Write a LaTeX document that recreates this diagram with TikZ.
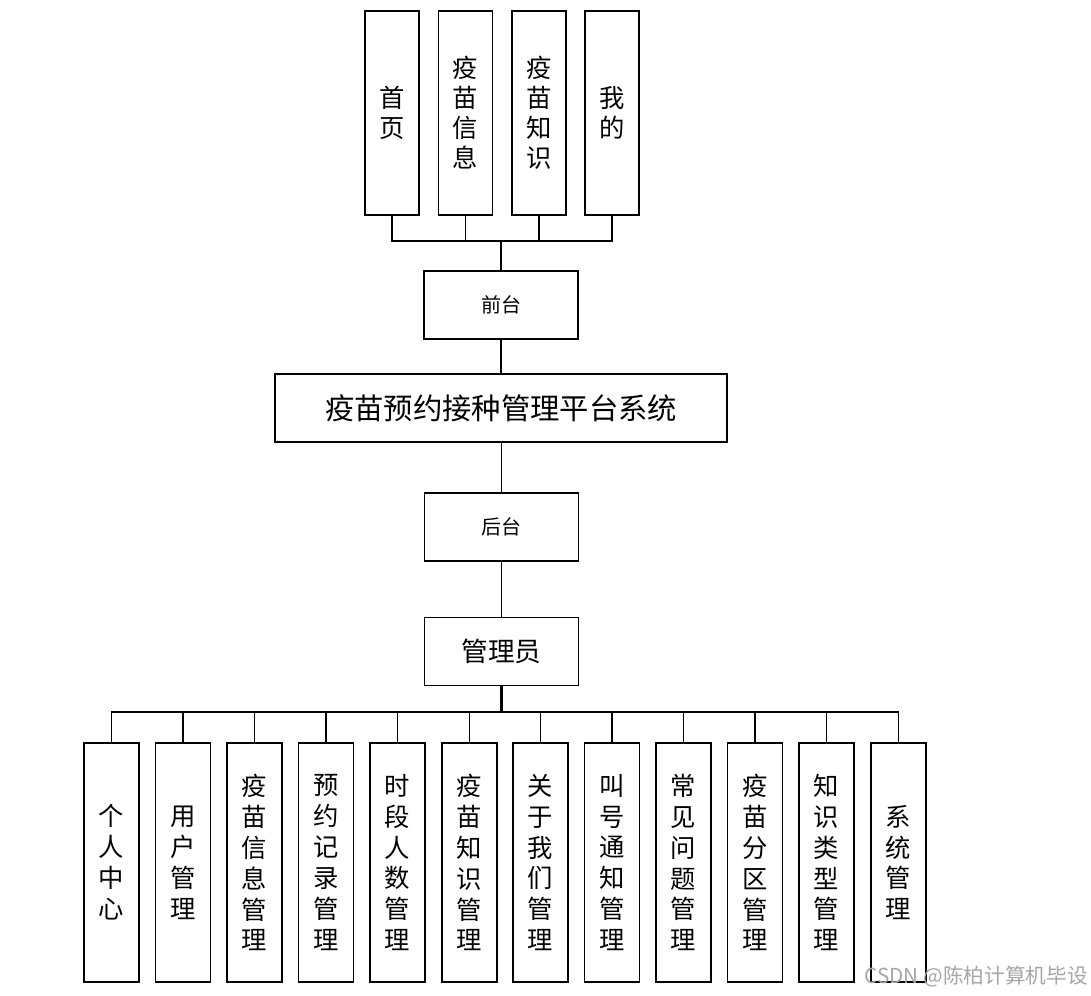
\documentclass[tikz,border=0pt]{standalone}
\usepackage{fontspec}
\setmainfont{Noto Sans CJK SC}
\begin{document}
\begin{tikzpicture}[x=0.75pt,y=-0.75pt,
  box/.style={draw=black,line width=1.3pt,inner sep=0pt,fill=white},
  topbox/.style={box,minimum width=40.5pt,minimum height=153pt,font=\fontsize{19pt}{22.5pt}\selectfont,align=center},
  botbox/.style={box,minimum width=41.25pt,minimum height=179.25pt,font=\fontsize{19pt}{23.2pt}\selectfont,align=center},
  midbox/.style={box,minimum width=115.5pt,minimum height=51pt},
  link/.style={line width=1.2pt,black}]
\useasboundingbox (0,0) rectangle (1091,995);
% top boxes
\node[topbox] (t1) at (392,113) {首\\页};
\node[topbox] (t2) at (465.5,113) {疫\\苗\\信\\息};
\node[topbox] (t3) at (539,113) {疫\\苗\\知\\识};
\node[topbox] (t4) at (612,113) {我\\的};
% middle column
\node[midbox,font=\fontsize{15pt}{18pt}\selectfont] (qt) at (501,305) {前台};
\node[box,minimum width=339pt,minimum height=51pt,font=\fontsize{22pt}{26pt}\selectfont] (sys) at (501,408) {疫苗预约接种管理平台系统};
\node[midbox,font=\fontsize{15pt}{18pt}\selectfont] (ht) at (501.5,527) {后台};
\node[midbox,font=\fontsize{20pt}{24pt}\selectfont] (gl) at (501.5,651.5) {管理员};
% bottom boxes
\node[botbox] (b1) at (111.5,862.5) {个\\人\\中\\心};
\node[botbox] (b2) at (183,862.5) {用\\户\\管\\理};
\node[botbox] (b3) at (254.5,862.5) {疫\\苗\\信\\息\\管\\理};
\node[botbox] (b4) at (326,862.5) {预\\约\\记\\录\\管\\理};
\node[botbox] (b5) at (397.5,862.5) {时\\段\\人\\数\\管\\理};
\node[botbox] (b6) at (469.5,862.5) {疫\\苗\\知\\识\\管\\理};
\node[botbox] (b7) at (540.5,862.5) {关\\于\\我\\们\\管\\理};
\node[botbox] (b8) at (612,862.5) {叫\\号\\通\\知\\管\\理};
\node[botbox] (b9) at (683.5,862.5) {常\\见\\问\\题\\管\\理};
\node[botbox] (b10) at (755,862.5) {疫\\苗\\分\\区\\管\\理};
\node[botbox] (b11) at (826.5,862.5) {知\\识\\类\\型\\管\\理};
\node[botbox] (b12) at (898.5,862.5) {系\\统\\管\\理};
% connectors top
\coordinate (tbar) at (501,241);
\draw[link,line width=1.6pt] (qt.north) -- (qt.north |- tbar);
\foreach \i in {1,2,3,4} {\draw[link] (t\i.south) |- (qt.north |- tbar);}
\draw[link] (qt.south) -- (sys.north);
\draw[link] (sys.south) -- (sys.south -| ht.north) -- (ht.north);
\draw[link] (ht.south) -- (gl.north);
% connectors bottom
\coordinate (bbar) at (501.5,712);
\draw[link,line width=1.8pt] (gl.south) -- (gl.south |- bbar);
\foreach \i in {1,...,12} {\draw[link] (b\i.north) |- (gl.south |- bbar);}
% watermark
\node[anchor=east,inner sep=0pt,text=black!35,font=\fontsize{15.5pt}{18pt}\selectfont] (wm) at (1088,977) {CSDN @陈柏计算机毕设};
\end{tikzpicture}
\end{document}
